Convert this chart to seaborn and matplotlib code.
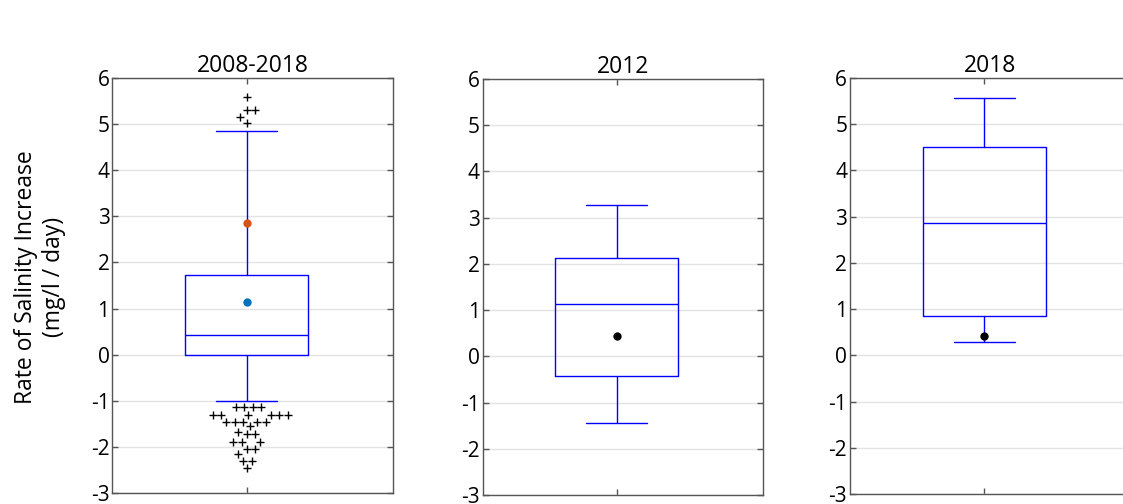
import numpy as np
import matplotlib
matplotlib.use("Agg")
import matplotlib.pyplot as plt
import seaborn as sns

# Five-number summaries (min whisker, Q1, median, Q3, max whisker) per period
box_2008_2018 = [-1.00, 0.00, 0.43, 1.72, 4.85]
box_2012 = [-1.44, -0.43, 1.14, 2.13, 3.28]
box_2018 = [0.28, 0.86, 2.86, 4.50, 5.57]

# Individual outlying rates for 2008-2018
outliers_high = [5.58, 5.30, 5.30, 5.15, 5.03]
outliers_low = [-1.14, -1.14, -1.14, -1.14,
                -1.30, -1.30, -1.30, -1.30, -1.30, -1.30,
                -1.45, -1.45, -1.45, -1.45, -1.45,
                -1.55, -1.68, -1.71, -1.71,
                -1.88, -1.88, -1.88, -2.03, -2.03,
                -2.15, -2.29, -2.29, -2.45]

# Reference markers
median_2012_marker = 1.15
median_2018_marker = 2.86
median_all_marker = 0.43

titles = ["2008-2018", "2012", "2018"]
y_ticks = list(range(-3, 7))
y_label = "Rate of Salinity Increase\n(mg/l / day)"

sns.set_theme(style="white")
plt.rcParams["font.family"] = ["Open Sans", "DejaVu Sans"]

BLUE = "#0000ff"
FRAME = "#555555"

fig = plt.figure(figsize=(11.23, 5.04), dpi=100)
positions = [
    [0.1000, 0.0212, 0.2502, 0.8246],
    [0.4298, 0.0179, 0.2493, 0.8254],
    [0.7569, 0.0192, 0.2502, 0.8266],
]
axes = [fig.add_axes(p) for p in positions]

box_data = [box_2008_2018, box_2012, box_2018]
line_kw = dict(color=BLUE, linewidth=1.0)

for ax, data, title in zip(axes, box_data, titles):
    sns.boxplot(
        y=data, ax=ax, width=0.5, whis=np.inf, fill=False, color=BLUE,
        linewidth=1.0,
        boxprops=line_kw, whiskerprops=line_kw, capprops=line_kw,
        medianprops=line_kw,
    )
    ax.set_title(title, fontsize=16.5, color="black", pad=4)

# Outliers of the full period as a swarm of crosses
ax0 = axes[0]
swarm_colls = []
for values in (outliers_low, outliers_high):
    n_before = len(ax0.collections)
    sns.swarmplot(y=values, ax=ax0, marker="+", color="black",
                  size=4.9, linewidth=1.0)
    swarm_colls.extend(ax0.collections[n_before:])

sns.stripplot(y=[median_2018_marker], ax=ax0, jitter=False,
              color="#D95319", size=6, linewidth=0)
sns.stripplot(y=[median_2012_marker], ax=ax0, jitter=False,
              color="#0072BD", size=6, linewidth=0)
sns.stripplot(y=[median_all_marker], ax=axes[1], jitter=False,
              color="black", size=6, linewidth=0)
sns.stripplot(y=[median_all_marker], ax=axes[2], jitter=False,
              color="black", size=6, linewidth=0)

for ax in axes:
    ax.set_xlim(-0.545, 0.595)
    ax.set_ylim(-3, 6)
    ax.set_yticks(y_ticks)
    ax.set_yticklabels([str(t) for t in y_ticks])
    ax.set_xticks([0])
    ax.set_xticklabels([""])
    ax.set_xlabel("")
    ax.set_ylabel("")
    ax.yaxis.grid(True, color="#e3e3e3", linewidth=1.0)
    ax.xaxis.grid(False)
    ax.set_axisbelow(True)
    ax.tick_params(axis="both", direction="in", length=4, width=1,
                   color=FRAME, top=True, right=True, bottom=True, left=True,
                   labelsize=15, labelcolor="black", pad=2)
    for s in ax.spines.values():
        s.set_visible(True)
        s.set_color(FRAME)
        s.set_linewidth(1.0)

ax0.set_ylabel(y_label, fontsize=16.5, color="black", linespacing=1.2)
ax0.yaxis.set_label_coords(-0.165, 0.52)

# Lay out the swarm once, then freeze it and set the cross size
fig.canvas.draw()
for coll in swarm_colls:
    if "draw" in coll.__dict__:
        del coll.draw
    coll.set_sizes([40])
    coll.set_linewidth(1.0)

fig.savefig("out.png", dpi=100)
